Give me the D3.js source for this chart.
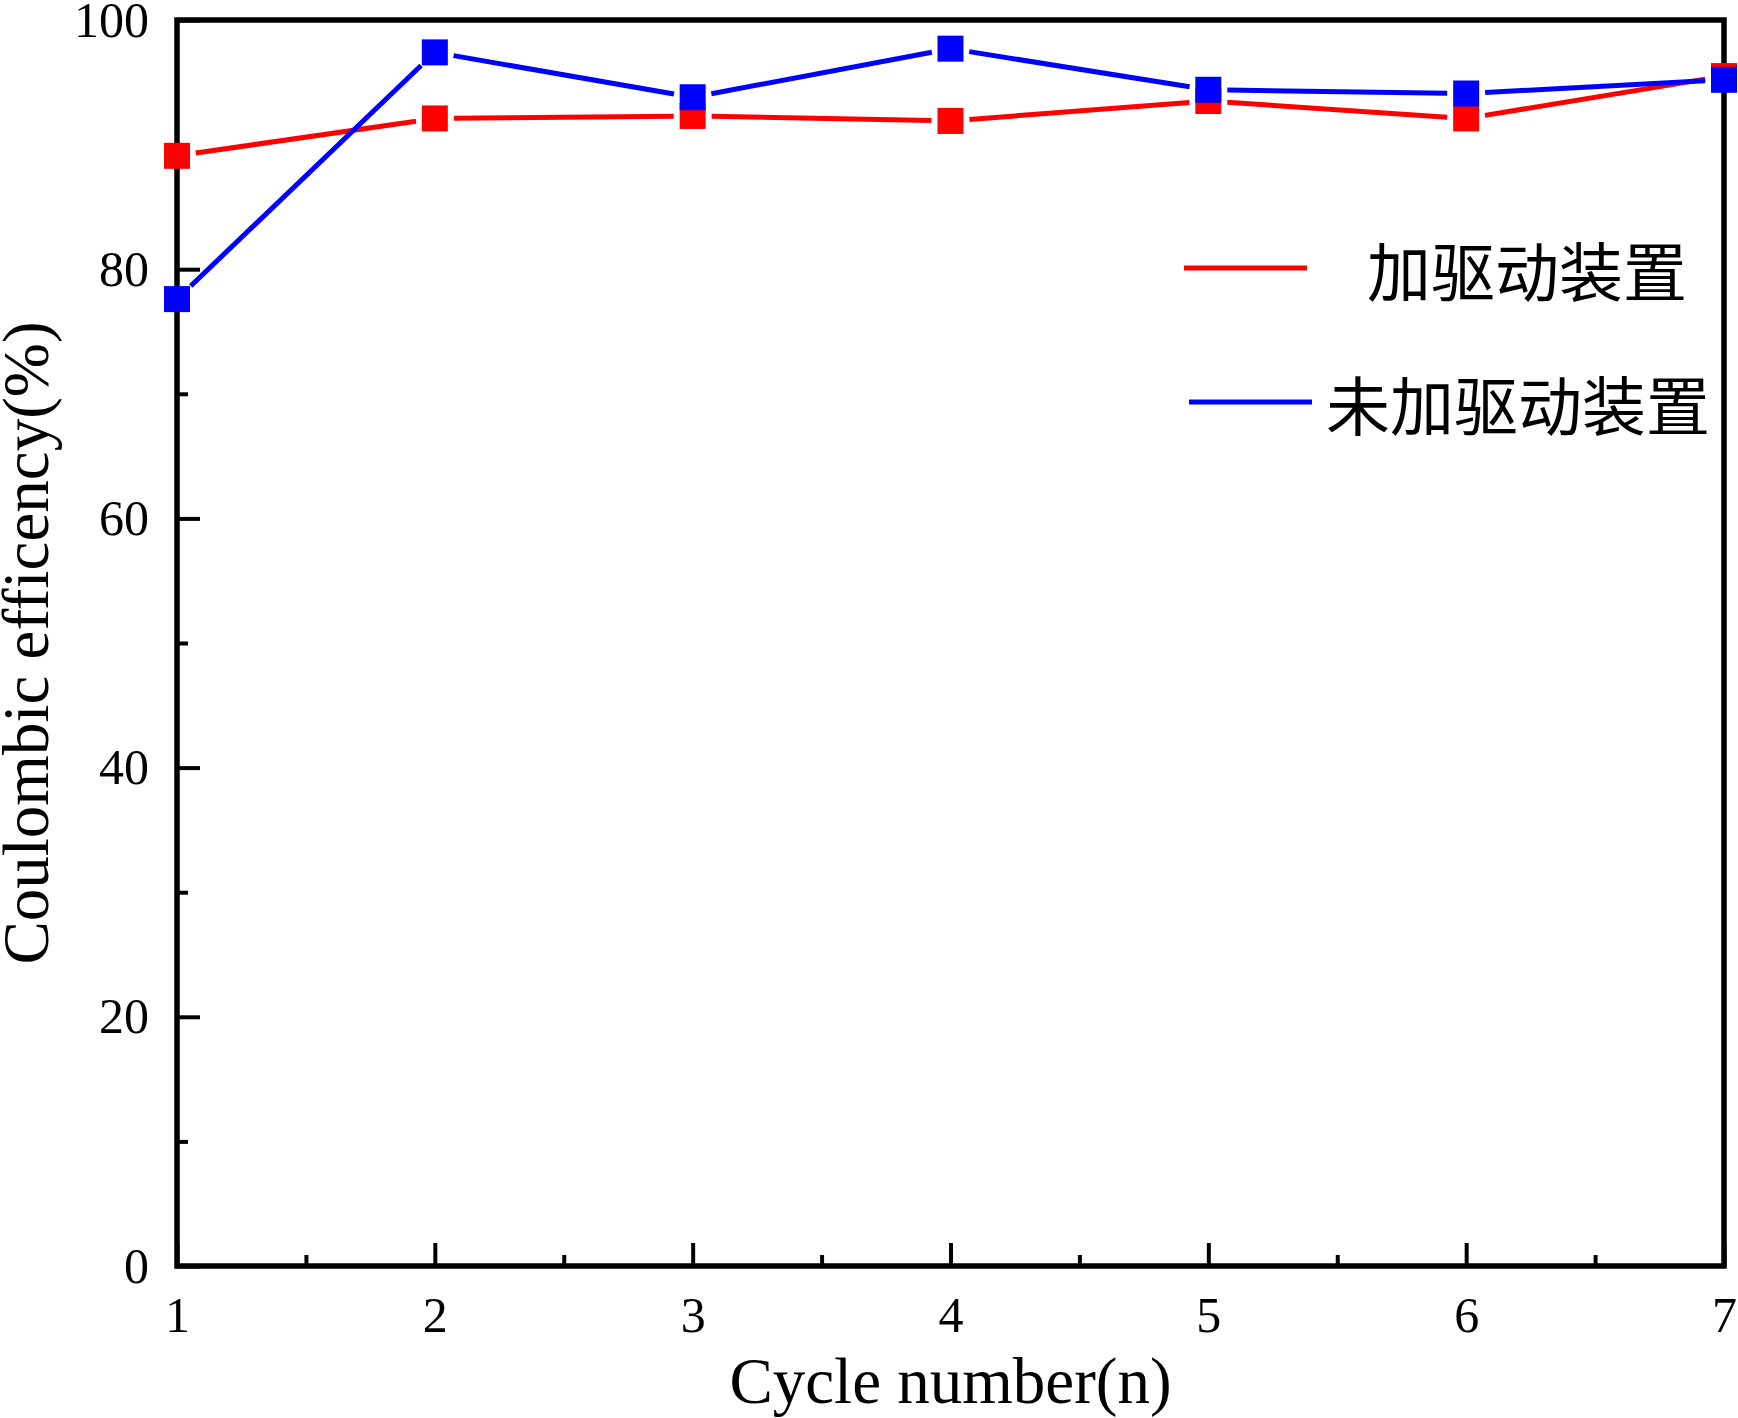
<!DOCTYPE html>
<html>
<head>
<meta charset="utf-8">
<script src="https://cdn.jsdelivr.net/npm/d3@7"></script>
<style>
  body { margin: 0; background: #fff; }
  .num { font-family: "Liberation Serif", "Times New Roman", serif; font-size: 50px; fill: #000; }
  .title { font-family: "Liberation Serif", "Times New Roman", serif; font-size: 65px; fill: #000; }
  .leg { font-family: "Noto Sans CJK SC", sans-serif; font-size: 64px; fill: #000; }
</style>
</head>
<body>
<svg width="1738" height="1418"></svg>
<script>
// data
var cycles = [1, 2, 3, 4, 5, 6, 7];
var withDrive = [89.1, 92.1, 92.3, 91.9, 93.5, 92.1, 95.5];
var withoutDrive = [77.6, 97.4, 93.8, 97.7, 94.4, 94.1, 95.2];
var seriesNames = ["加驱动装置", "未加驱动装置"];
var seriesColors = ["#ff0000", "#0000ff"];
var yMajor = [0, 20, 40, 60, 80, 100];
var yMinor = [10, 30, 50, 70, 90];
var xMajor = [1, 2, 3, 4, 5, 6, 7];
var xMinor = [1.5, 2.5, 3.5, 4.5, 5.5, 6.5];

var W = 1738, H = 1418;
var margin = {left: 177, right: 14, top: 20, bottom: 152};
var iw = W - margin.left - margin.right;
var ih = H - margin.top - margin.bottom;

var svg = d3.select("svg");
var g = svg.append("g").attr("transform", "translate(" + margin.left + "," + margin.top + ")");

var x = d3.scaleLinear().domain([1, 7]).range([0, iw]);
var y = d3.scaleLinear().domain([0, 100]).range([ih, 0]);

function styleAxis(sel) {
    sel.select(".domain").remove();
    sel.selectAll(".tick line").attr("stroke", "#000").attr("stroke-width", 4);
}

// major / minor ticks, pointing inward
var xa = g.append("g").attr("transform", "translate(0," + ih + ")")
    .call(d3.axisBottom(x).tickValues(xMajor).tickFormat(d3.format("d")).tickSize(-23).tickPadding(30));
styleAxis(xa);
xa.selectAll("text").attr("class", "num").attr("fill", null).attr("font-family", null).attr("font-size", null);

var xm = g.append("g").attr("transform", "translate(0," + ih + ")")
    .call(d3.axisBottom(x).tickValues(xMinor).tickFormat("").tickSize(-11));
styleAxis(xm);

var ya = g.append("g")
    .call(d3.axisLeft(y).tickValues(yMajor).tickFormat(d3.format("d")).tickSize(-23).tickPadding(28));
styleAxis(ya);
ya.selectAll("text").attr("class", "num").attr("fill", null).attr("font-family", null).attr("font-size", null);

var ym = g.append("g")
    .call(d3.axisLeft(y).tickValues(yMinor).tickFormat("").tickSize(-11));
styleAxis(ym);

// frame
g.append("rect")
    .attr("x", 0).attr("y", 0)
    .attr("width", iw).attr("height", ih)
    .attr("fill", "none")
    .attr("stroke", "#000")
    .attr("stroke-width", 5.5);

// series: segments with a gap around each symbol, then square symbols
var allSeries = [withDrive, withoutDrive];
var gap = 19;
var msize = 26;

allSeries.forEach(function(vals, si) {
    var col = seriesColors[si];
    var pts = cycles.map(function(c, i) { return [x(c), y(vals[i])]; });
    var sg = g.append("g");
    for (var i = 0; i < pts.length - 1; i++) {
        var p = pts[i], q = pts[i + 1];
        var dx = q[0] - p[0], dy = q[1] - p[1];
        var len = Math.sqrt(dx * dx + dy * dy);
        if (len <= 2 * gap) { continue; }
        var ux = dx / len, uy = dy / len;
        sg.append("line")
            .attr("x1", p[0] + ux * gap).attr("y1", p[1] + uy * gap)
            .attr("x2", q[0] - ux * gap).attr("y2", q[1] - uy * gap)
            .attr("stroke", col)
            .attr("stroke-width", 5);
    }
    sg.selectAll("rect").data(pts).enter().append("rect")
        .attr("x", function(d) { return d[0] - msize / 2; })
        .attr("y", function(d) { return d[1] - msize / 2; })
        .attr("width", msize).attr("height", msize)
        .attr("fill", col);
});

// axis titles
svg.append("text")
    .attr("class", "title")
    .attr("x", margin.left + iw / 2)
    .attr("y", 1403)
    .attr("text-anchor", "middle")
    .text("Cycle number(n)");

svg.append("text")
    .attr("class", "title")
    .attr("transform", "translate(48," + (margin.top + ih / 2) + ") rotate(-90)")
    .attr("text-anchor", "middle")
    .text("Coulombic efficency(%)");

// legend
var legend = [
    {line: [1184, 1307], y: 268, tx: 1367},
    {line: [1189, 1312], y: 402, tx: 1326}
];
legend.forEach(function(l, i) {
    svg.append("line")
        .attr("x1", l.line[0]).attr("x2", l.line[1])
        .attr("y1", l.y).attr("y2", l.y)
        .attr("stroke", seriesColors[i])
        .attr("stroke-width", 5);
    svg.append("text")
        .attr("class", "leg")
        .attr("x", l.tx)
        .attr("y", l.y)
        .attr("dominant-baseline", "central")
        .text(seriesNames[i]);
});
</script>
</body>
</html>
